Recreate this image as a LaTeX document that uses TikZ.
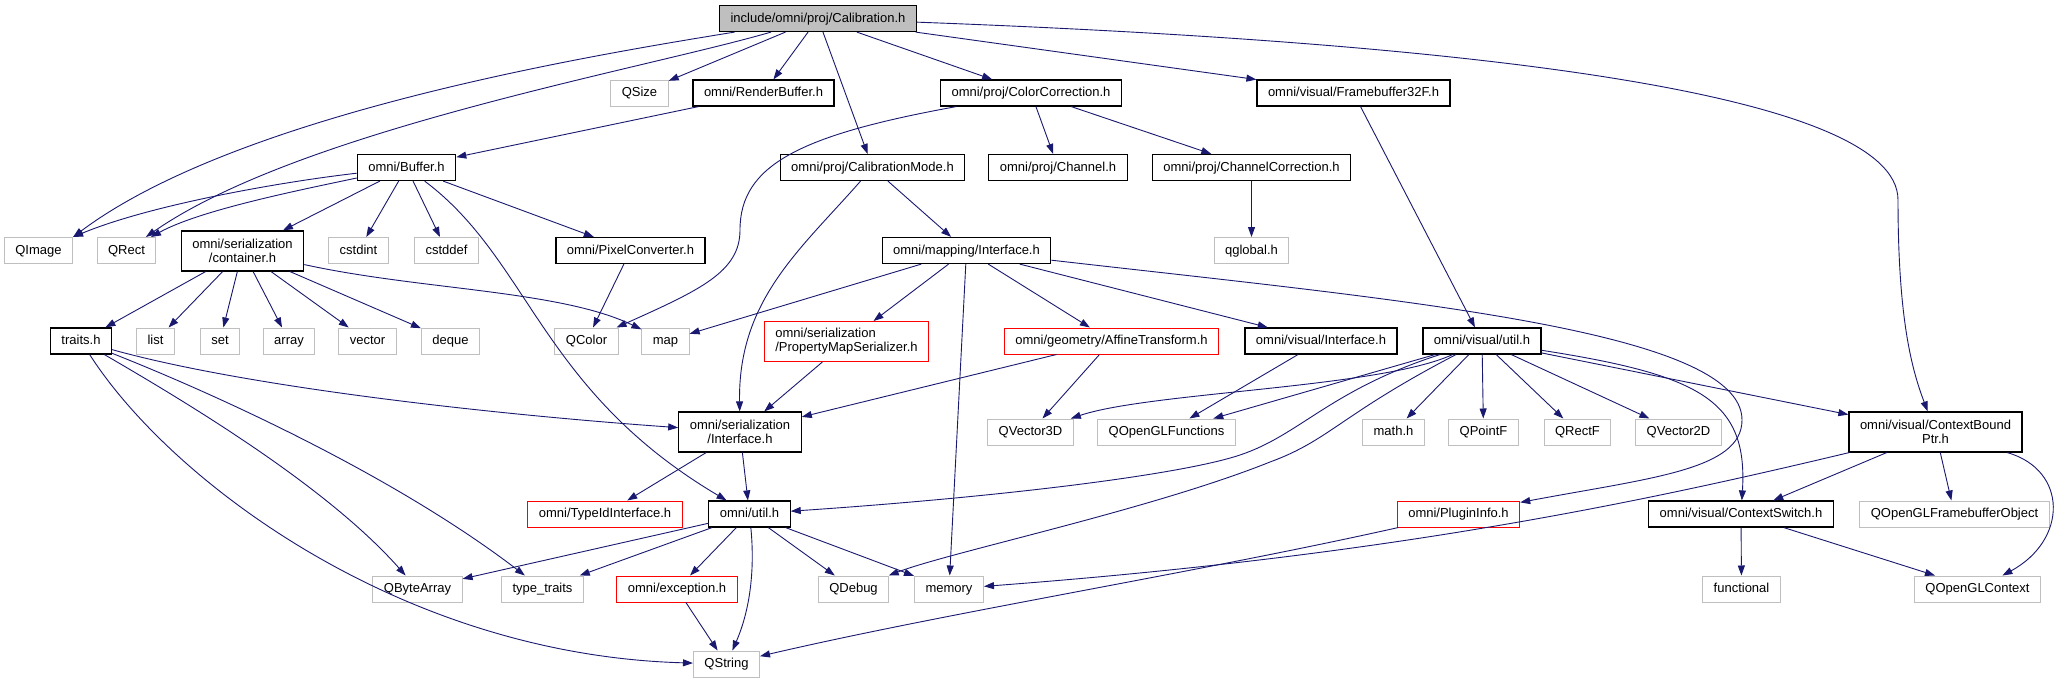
\documentclass[tikz,border=0pt]{standalone}
\usepackage{fontspec}
\setmainfont{Liberation Sans}
\usepackage{xcolor}
\usepackage{tikz}
\usetikzlibrary{arrows.meta}
\definecolor{edgeblue}{HTML}{191970}
\definecolor{extgrey}{HTML}{BFBFBF}

\begin{document}
\begin{tikzpicture}[x=1pt,y=-1pt,font=\fontsize{13}{14}\selectfont,
  incbox/.style={rectangle,fill=white,inner xsep=11pt,inner ysep=0pt,
    minimum height=26pt,text height=10.6pt,text depth=3pt},
  hdr/.style={incbox,draw=black,line width=1.2pt,fill=extgrey},
  doc/.style={incbox,draw=black,line width=1.2pt},
  ext/.style={incbox,draw=extgrey,line width=1pt},
  trunc/.style={incbox,draw=red,line width=1pt},
  two/.style={minimum height=40pt,align=center,text height={},text depth={}},
  dep/.style={draw=edgeblue,line width=0.9pt,-{Triangle[length=10pt,width=7pt]}}]
  \path[use as bounding box,fill=white] (0,0) rectangle (2070,683);
  % --- fila 0 ---
  \node[hdr] (cal) at (818,18.5) {include/omni/proj/Calibration.h};
  % --- fila 1 ---
  \node[ext] (qsize) at (639.5,93) {QSize};
  \node[doc] (rbuf) at (763.5,93) {omni/RenderBuffer.h};
  \node[doc] (colcor) at (1031,93) {omni/proj/ColorCorrection.h};
  \node[doc] (fb32) at (1353.5,93) {omni/visual/Framebuffer32F.h};
  % --- fila 2 ---
  \node[doc] (buf) at (406.5,167.5) {omni/Buffer.h};
  \node[doc] (calmode) at (872.5,167.5) {omni/proj/CalibrationMode.h};
  \node[doc] (chan) at (1058,167.5) {omni/proj/Channel.h};
  \node[doc] (chancor) at (1251.5,167.5) {omni/proj/ChannelCorrection.h};
  % --- fila 3 ---
  \node[ext] (qimage) at (38.5,250.5) {QImage};
  \node[ext] (qrect) at (126.5,250.5) {QRect};
  \node[doc,two] (cont) at (242.5,251) {omni/serialization\\/container.h};
  \node[ext] (cstdint) at (358.5,250.5) {cstdint};
  \node[ext] (cstddef) at (446.5,250.5) {cstddef};
  \node[doc] (pixconv) at (630.5,250.5) {omni/PixelConverter.h};
  \node[doc] (mapif) at (966.5,250.5) {omni/mapping/Interface.h};
  \node[ext] (qglobal) at (1251.5,250.5) {qglobal.h};
  % --- fila 4 ---
  \node[doc] (traits) at (81,341) {traits.h};
  \node[ext] (list) at (155.5,341) {list};
  \node[ext] (set) at (220,341) {set};
  \node[ext] (array) at (289,341) {array};
  \node[ext] (vector) at (367.5,341) {vector};
  \node[ext] (deque) at (450.5,341) {deque};
  \node[ext] (qcolor) at (586.5,341) {QColor};
  \node[ext] (map) at (665.5,341) {map};
  \node[trunc,two,align=left] (pmser) at (846.5,341.5) {omni/serialization\\/PropertyMapSerializer.h};
  \node[trunc] (affine) at (1111.5,341) {omni/geometry/AffineTransform.h};
  \node[doc] (visif) at (1321,341) {omni/visual/Interface.h};
  \node[doc] (visutil) at (1482,341) {omni/visual/util.h};
  % --- fila 5 ---
  \node[doc,two] (serif) at (740,432) {omni/serialization\\/Interface.h};
  \node[ext] (qvec3) at (1030.5,432) {QVector3D};
  \node[ext] (qglfun) at (1166.5,432) {QOpenGLFunctions};
  \node[ext] (mathh) at (1393.5,432) {math.h};
  \node[ext] (qpointf) at (1483.5,432) {QPointF};
  \node[ext] (qrectf) at (1577.5,432) {QRectF};
  \node[ext] (qvec2) at (1678.5,432) {QVector2D};
  \node[doc,two] (ctxb) at (1935.5,432) {omni/visual/ContextBound\\Ptr.h};
  % --- fila 6 ---
  \node[trunc] (typeid) at (605,514) {omni/TypeIdInterface.h};
  \node[doc] (util) at (749.5,514) {omni/util.h};
  \node[trunc] (plugin) at (1458.5,514) {omni/PluginInfo.h};
  \node[doc] (ctxsw) at (1741,514) {omni/visual/ContextSwitch.h};
  \node[ext] (qfbo) at (1954.5,514) {QOpenGLFramebufferObject};
  % --- fila 7 ---
  \node[ext] (qbytes) at (417.5,589) {QByteArray};
  \node[ext] (typetr) at (542.5,589) {type\_traits};
  \node[trunc] (except) at (677,589) {omni/exception.h};
  \node[ext] (qdebug) at (853.5,589) {QDebug};
  \node[ext] (memory) at (949,589) {memory};
  \node[ext] (functional) at (1741.5,589) {functional};
  \node[ext] (qglctx) at (1977.5,589) {QOpenGLContext};
  % --- fila 8 ---
  \node[ext] (qstring) at (726.5,664) {QString};
  % --- Calibration.h ---
  \draw[dep] (cal) .. controls (600,54) and (240,112) .. (qimage.north east);
  \draw[dep] (cal) .. controls (640,70) and (300,130) .. (qrect);
  \draw[dep] (cal) -- (qsize);
  \draw[dep] (cal) -- (rbuf);
  \draw[dep] (cal) -- (calmode);
  \draw[dep] (cal) -- (colcor);
  \draw[dep] (cal) -- (fb32);
  \draw[dep] (cal) .. controls (1450,42) and (1898,90) .. (1898,200)
    .. controls (1898,320) and (1912,370) .. (ctxb);
  % --- RenderBuffer.h, Buffer.h ---
  \draw[dep] (rbuf) -- (buf);
  \draw[dep] (buf) .. controls (280,182) and (150,205) .. (qimage.north east);
  \draw[dep] (buf) .. controls (300,190) and (200,210) .. (qrect);
  \draw[dep] (buf) -- (cont);
  \draw[dep] (buf) -- (cstdint);
  \draw[dep] (buf) -- (cstddef);
  \draw[dep] (buf) -- (pixconv);
  \draw[dep] (buf) .. controls (530,260) and (540,390) .. (util);
  % --- container.h ---
  \draw[dep] (cont) -- (traits);
  \draw[dep] (cont) -- (list);
  \draw[dep] (cont) -- (set);
  \draw[dep] (cont) -- (array);
  \draw[dep] (cont) -- (vector);
  \draw[dep] (cont) -- (deque);
  \draw[dep] (cont) .. controls (420,290) and (560,290) .. (map);
  % --- ColorCorrection.h, CalibrationMode.h ---
  \draw[dep] (colcor) .. controls (800,135) and (740,165) .. (740,230)
    .. controls (740,272) and (700,290) .. (qcolor);
  \draw[dep] (colcor) -- (chan);
  \draw[dep] (colcor) -- (chancor);
  \draw[dep] (chancor) -- (qglobal);
  \draw[dep] (calmode) -- (mapif);
  \draw[dep] (calmode) .. controls (800,250) and (738,300) .. (serif);
  \draw[dep] (pixconv) -- (qcolor);
  % --- mapping/Interface.h ---
  \draw[dep] (mapif) -- (map);
  \draw[dep] (mapif) -- (pmser);
  \draw[dep] (mapif) -- (affine);
  \draw[dep] (mapif) -- (visif);
  \draw[dep] (mapif) -- (memory);
  \draw[dep] (mapif) .. controls (1400,300) and (1742,330) .. (1742,420)
    .. controls (1742,470) and (1650,478) .. (plugin);
  \draw[dep] (fb32) -- (visutil);
  % --- traits.h ---
  \draw[dep] (traits) .. controls (250,388) and (500,415) .. (serif);
  \draw[dep] (traits) .. controls (200,410) and (330,490) .. (qbytes);
  \draw[dep] (traits) .. controls (230,400) and (400,480) .. (typetr);
  \draw[dep] (traits) .. controls (170,480) and (400,655) .. (qstring);
  \draw[dep] (pmser) -- (serif);
  \draw[dep] (affine) -- (serif);
  \draw[dep] (affine) -- (qvec3);
  \draw[dep] (visif) -- (qglfun);
  % --- visual/util.h ---
  \draw[dep] (visutil) .. controls (1380,388) and (1150,392) .. (qvec3);
  \draw[dep] (visutil) -- (qglfun);
  \draw[dep] (visutil) -- (mathh);
  \draw[dep] (visutil) -- (qpointf);
  \draw[dep] (visutil) -- (qrectf);
  \draw[dep] (visutil) -- (qvec2);
  \draw[dep] (visutil) -- (ctxb);
  \draw[dep] (visutil) .. controls (1700,375) and (1748,400) .. (ctxsw);
  \draw[dep] (visutil) .. controls (1330,390) and (1300,435) .. (1240,455)
    .. controls (1180,475) and (1000,497) .. (util);
  \draw[dep] (visutil) .. controls (1340,415) and (1330,440) .. (1270,462)
    .. controls (1150,510) and (950,552) .. (qdebug);
  % --- ContextBoundPtr.h, ContextSwitch.h ---
  \draw[dep] (ctxb) -- (ctxsw);
  \draw[dep] (ctxb) -- (qfbo);
  \draw[dep] (ctxb) .. controls (2068,470) and (2068,540) .. (qglctx);
  \draw[dep] (ctxb) .. controls (1650,500) and (1400,555) .. (memory);
  \draw[dep] (ctxsw) -- (functional);
  \draw[dep] (ctxsw) -- (qglctx);
  % --- serialization/Interface.h, util.h ---
  \draw[dep] (serif) -- (typeid);
  \draw[dep] (serif) -- (util);
  \draw[dep] (util) -- (qbytes);
  \draw[dep] (util) -- (typetr);
  \draw[dep] (util) -- (except);
  \draw[dep] (util) -- (qdebug);
  \draw[dep] (util) -- (memory);
  \draw[dep] (util) .. controls (755,570) and (750,610) .. (qstring);
  \draw[dep] (except) -- (qstring);
  \draw[dep] (plugin) .. controls (1200,572) and (950,612) .. (qstring);
\end{tikzpicture}
\end{document}
